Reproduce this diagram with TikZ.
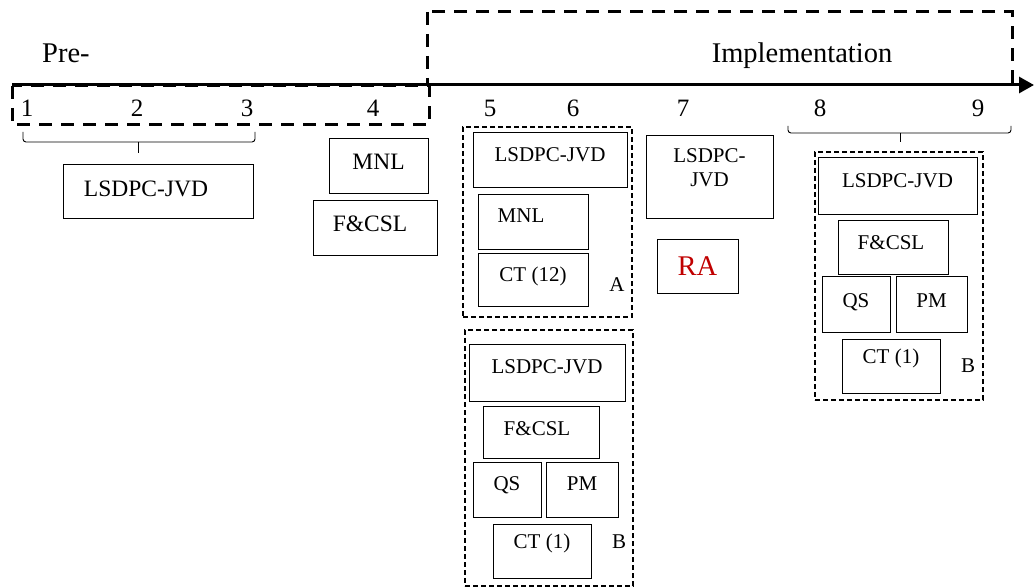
\documentclass[tikz,border=0pt]{standalone}
\usepackage{fontspec}
\setmainfont{Liberation Serif}
\usetikzlibrary{arrows.meta,calc}
\definecolor{rared}{RGB}{192,0,0}
% box: [text style], name, x1, y1, x2, y2, baseline offset from top, x offset, text
\newcommand{\bx}[9][txt]{%
  \node[bx,minimum width={#5-#3},minimum height={#6-#4}] (#2) at ({(#3+#5)/2},{(#4+#6)/2}) {};
  \node[#1,anchor=base] (#2t) at ([xshift=#8pt,yshift=-#7pt]#2.north) {#9};}
\newcommand{\grpbox}[5]{%
  \node[grp,minimum width={#4-#2},minimum height={#5-#3}] (#1) at ({(#2+#4)/2},{(#3+#5)/2}) {};}
\begin{document}
\begin{tikzpicture}[x=1pt,y=-1pt,
  bx/.style={draw,line width=0.9pt,inner sep=0pt,outer sep=0pt},
  txt/.style={inner sep=0pt,font=\fontsize{21}{24}\selectfont},
  txtL/.style={inner sep=0pt,font=\fontsize{23.5}{26}\selectfont},
  grp/.style={draw,line width=1.8pt,dash pattern=on 5pt off 3pt,inner sep=0pt,outer sep=0pt},
  phase/.style={line width=3pt,dash pattern=on 13pt off 9pt},
  num/.style={inner sep=0pt,anchor=base,font=\fontsize{25}{27}\selectfont},
  big/.style={inner sep=0pt,font=\fontsize{28.5}{30}\selectfont},
  brk/.style={line width=0.9pt,rounded corners=3pt}]
\useasboundingbox (0,0) rectangle (1034,588);

% phase frames
\coordinate (p1) at (12,86);
\coordinate (p2) at (429,125);
\draw[phase] (p1) rectangle (p2);
\coordinate (i1) at (427,12);
\coordinate (i2) at (1012,85);
\draw[phase] (i1) rectangle (i2);

% time axis
\coordinate (ax0) at (12,85);
\coordinate (ax1) at (1034,85);
\draw[line width=3pt,-{Triangle[length=15pt,width=16pt]}] (ax0) -- (ax1);

% phase titles
\node[big,anchor=base west] (pre) at (42,63) {Pre-};
\node[big,anchor=base] (impl) at (802,63) {Implementation};

% step numbers
\node[num] (n1) at (27,117) {1};
\node[num] (n2) at (137,117) {2};
\node[num] (n3) at (247,117) {3};
\node[num] (n4) at (373,117) {4};
\node[num] (n5) at (490,117) {5};
\node[num] (n6) at (573,117) {6};
\node[num] (n7) at (683,117) {7};
\node[num] (n8) at (820,117) {8};
\node[num] (n9) at (978,117) {9};

% brackets
\coordinate (ba1) at (23,132);
\coordinate (ba2) at (255,132);
\coordinate (bam) at (138,142);
\coordinate (bat) at (138,153);
\draw[brk] (ba1) |- (bam) -| (ba2);
\draw[line width=0.9pt] (bam) -- (bat);
\coordinate (bb1) at (788,126);
\coordinate (bb2) at (1011,126);
\coordinate (bbm) at (900,133);
\coordinate (bbt) at (900,142);
\draw[brk] (bb1) |- (bbm) -| (bb2);
\draw[line width=0.9pt] (bbm) -- (bbt);

% steps 1-3
\bx[txtL]{l1}{63}{164}{253}{218}{33}{-12}{LSDPC-JVD}
% step 4
\bx[txtL]{m4}{329}{138}{428}{193}{32}{0}{MNL}
\bx[txtL]{f4}{313}{200}{437}{255}{32}{-5}{F\&CSL}

% group A
\grpbox{gA}{463}{127}{632}{317}
\bx{lA}{473}{132}{627}{187}{30}{0}{LSDPC-JVD}
\bx{mA}{478}{194}{588}{249}{29}{-12}{MNL}
\bx{cA}{478}{253}{588}{306}{29}{0}{CT (12)}
\node[txt,anchor=base] (labA) at (617,291) {A};

% group B (lower)
\grpbox{gB}{465}{330}{633}{586}
\bx{lB}{469}{344}{625}{401}{29}{0}{LSDPC-JVD}
\bx{fB}{483}{406}{599}{458}{29}{-4}{F\&CSL}
\bx{qB}{473}{462}{541}{517}{28}{0}{QS}
\bx{pB}{546}{462}{618}{517}{28}{0}{PM}
\bx{cB}{493}{524}{591}{578}{24}{0}{CT (1)}
\node[txt,anchor=base] (labB) at (619,548) {B};

% step 7
\node[bx,minimum width=127,minimum height=83] (l7) at (709.5,176.5) {};
\node[txt,align=center,anchor=north] (l7t) at ([yshift=-13pt]l7.north) {LSDPC-\\JVD};
\node[bx,minimum width=81,minimum height=54] (ra) at (697.5,266) {};
\node[big,text=rared,anchor=base] (rat) at ([yshift=-37pt]ra.north) {RA};

% group B (right)
\grpbox{gR}{815}{152}{983}{400}
\bx{lR}{818}{157}{977}{214}{31}{0}{LSDPC-JVD}
\bx{fR}{838}{220}{948}{274}{30}{-2}{F\&CSL}
\bx{qR}{822}{276}{890}{332}{31}{0}{QS}
\bx{pR}{896}{276}{967}{332}{31}{0}{PM}
\bx{cR}{842}{339}{940}{393}{24}{0}{CT (1)}
\node[txt,anchor=base] (labR) at (968,372) {B};
\end{tikzpicture}
\end{document}
